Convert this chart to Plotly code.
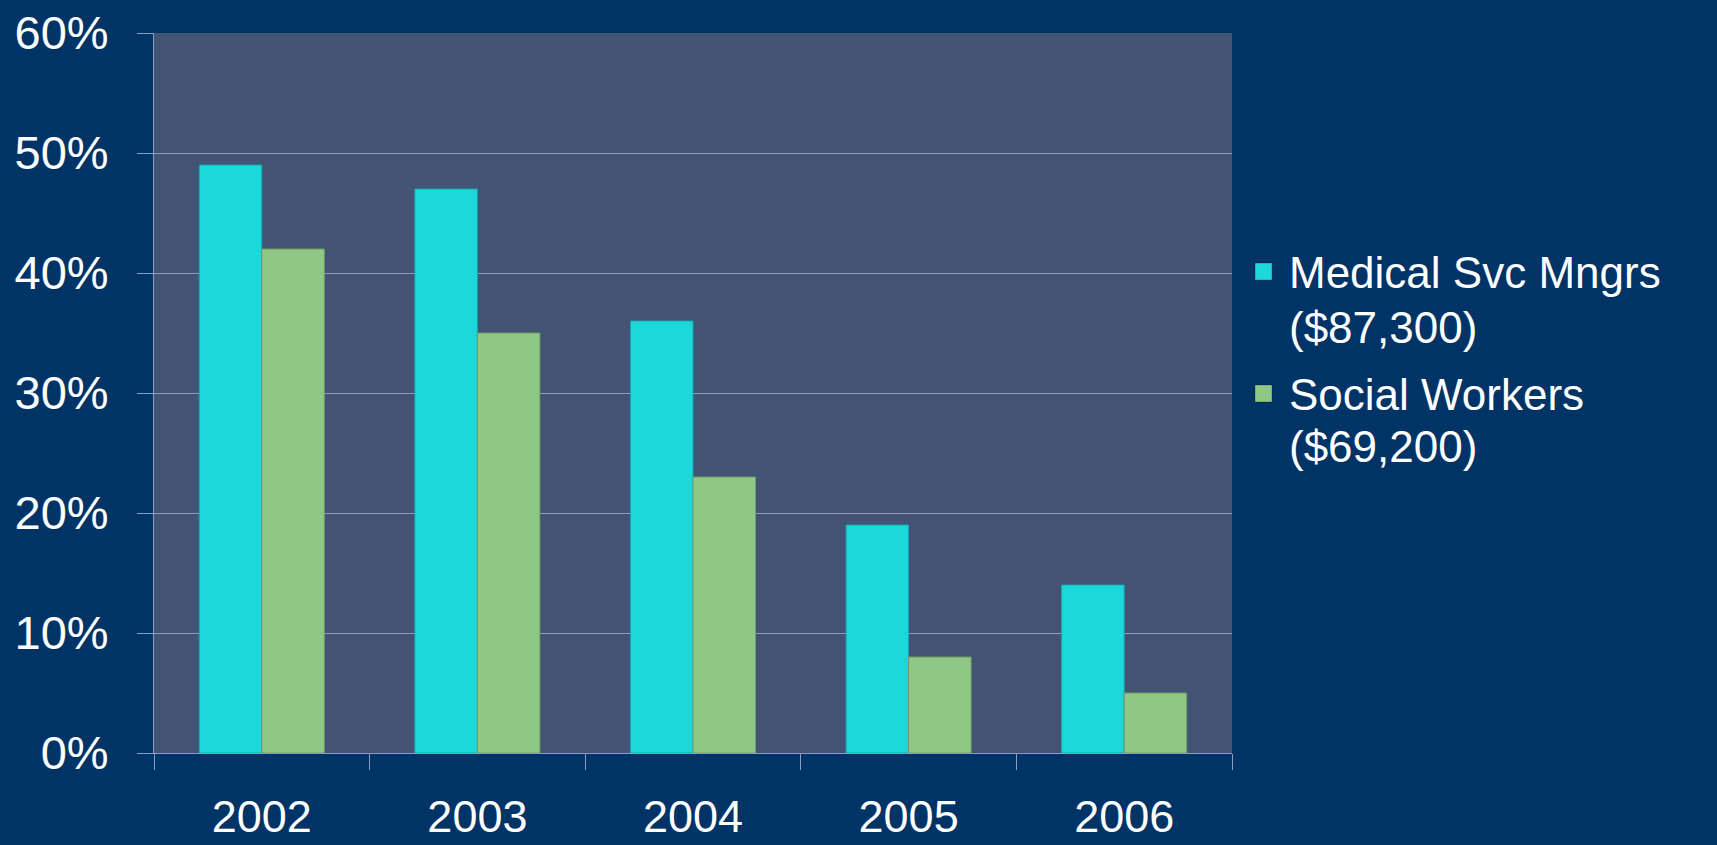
import plotly.graph_objects as go

years = ["2002", "2003", "2004", "2005", "2006"]
medical = [49, 47, 36, 19, 14]
social = [42, 35, 23, 8, 5]
series_names = ["Medical Svc Mngrs", "Social Workers"]
series_salaries = ["($87,300)", "($69,200)"]
y_ticks = [0, 10, 20, 30, 40, 50, 60]
y_tick_labels = ["0%", "10%", "20%", "30%", "40%", "50%", "60%"]

PAPER = "#003366"
PLOT = "#435373"
GRID = "#8d9cc2"
CYAN = "#1dd8da"
GREEN = "#8fc885"
FONT = "Arial, Liberation Sans, sans-serif"

fig = go.Figure()
fig.add_trace(go.Bar(x=years, y=medical, name=series_names[0],
                     marker=dict(color=CYAN, line=dict(color="#15a7ad", width=1))))
fig.add_trace(go.Bar(x=years, y=social, name=series_names[1],
                     marker=dict(color=GREEN, line=dict(color="#6e9c66", width=1))))

L, R, T, B = 154, 485, 33, 92
W, H = 1717, 845
pw = W - L - R
ph = H - T - B

def px_x(x):
    return (x - L) / pw

def px_y(y):
    return (H - B - y) / ph

annotations = []
shapes = []
colors = [CYAN, GREEN]
line_centers = [(272, 327), (394, 447)]
for i in range(2):
    y1, y2 = line_centers[i]
    annotations.append(dict(xref="paper", yref="paper", x=px_x(1287), y=px_y(y1),
                            xanchor="left", yanchor="middle", showarrow=False,
                            text=series_names[i], font=dict(size=44, color="white", family=FONT)))
    annotations.append(dict(xref="paper", yref="paper", x=px_x(1287), y=px_y(y2),
                            xanchor="left", yanchor="middle", showarrow=False,
                            text=series_salaries[i], font=dict(size=44, color="white", family=FONT)))
    shapes.append(dict(type="rect", xref="paper", yref="paper",
                       x0=px_x(1255), x1=px_x(1272), y0=px_y(y1 + 8), y1=px_y(y1 - 9),
                       fillcolor=colors[i], line=dict(color="rgba(0,0,0,0.25)", width=1)))

fig.update_layout(
    width=W, height=H,
    margin=dict(l=L, r=R, t=T, b=B),
    paper_bgcolor=PAPER, plot_bgcolor=PLOT,
    barmode="group", bargap=0.42, bargroupgap=0,
    showlegend=False,
    font=dict(family=FONT, color="white", size=46),
    annotations=annotations, shapes=shapes,
    xaxis=dict(tickson="boundaries", ticks="outside", ticklen=16, tickcolor=GRID,
               showline=True, linecolor=GRID, linewidth=1, showgrid=False,
               tickfont=dict(size=45, color="white", family=FONT),
               ticklabelstandoff=24, automargin=False),
    yaxis=dict(range=[0, 60], tickmode="array", tickvals=y_ticks, ticktext=y_tick_labels,
               ticks="outside",
               ticklen=16, tickcolor=GRID, showline=True, linecolor=GRID, linewidth=1,
               gridcolor=GRID, gridwidth=1, zeroline=False,
               tickfont=dict(size=47, color="white", family=FONT),
               ticklabelstandoff=19, automargin=False),
)

fig.write_html("out.html")
